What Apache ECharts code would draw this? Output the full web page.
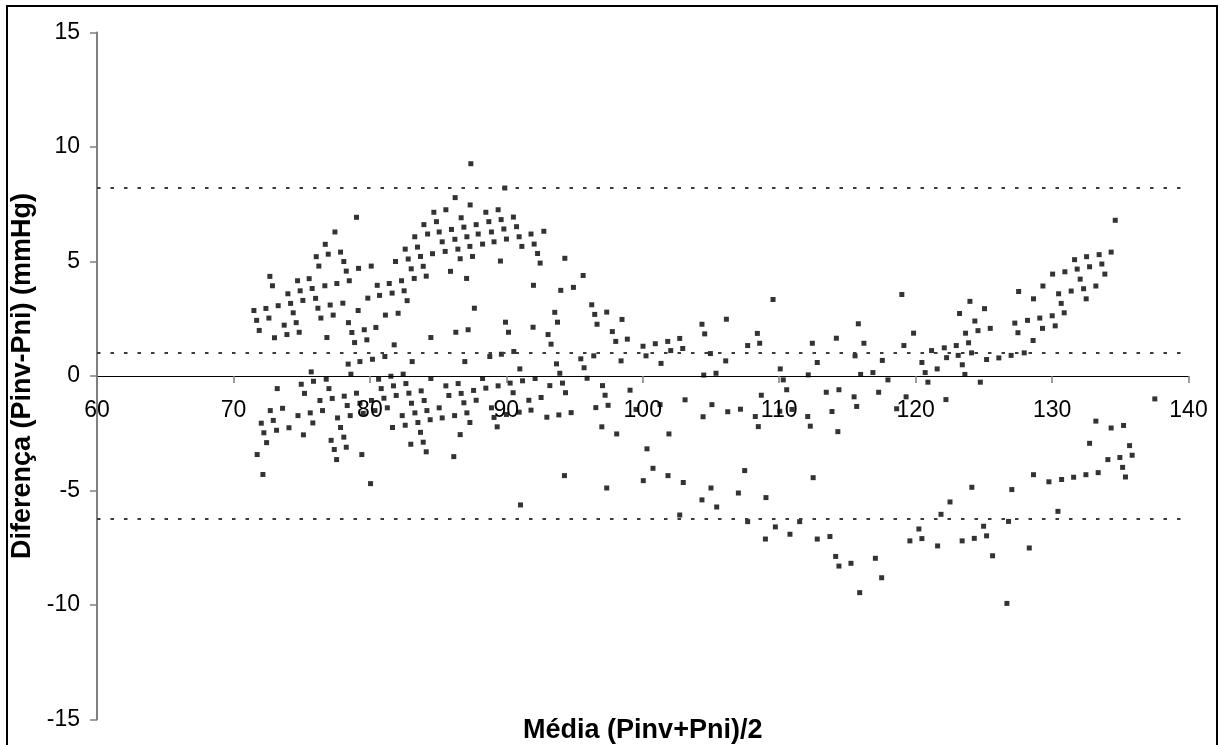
<!DOCTYPE html>
<html>
<head>
<meta charset="utf-8">
<title>Diferença vs Média (Pinv, Pni)</title>
<script src="https://cdn.jsdelivr.net/npm/echarts@6/dist/echarts.min.js"></script>
<style>
  html, body { margin: 0; padding: 0; background: #ffffff; }
  #chart { width: 1220px; height: 745px; }
</style>
</head>
<body>
<div id="chart"></div>
<script>
// Bland–Altman data: mean of the two pressures (x) and their difference (y)
const meanValues = [
  87.40, 86.25, 87.35, 84.69, 85.57, 86.69, 79.02, 84.88, 83.96, 85.98,
  86.89, 87.79, 77.44, 83.29, 84.23, 85.08, 86.23, 87.11, 87.94, 76.73,
  85.30, 83.49, 87.33, 76.07, 76.95, 77.85, 82.59, 83.71, 84.59, 85.52,
  86.45, 87.52, 76.26, 78.09, 79.17, 80.10, 81.88, 82.81, 86.62, 78.27,
  83.03, 83.91, 85.91, 72.67, 75.55, 74.70, 78.49, 83.25, 84.13, 87.09,
  72.86, 76.70, 77.58, 80.54, 81.42, 82.32, 75.77, 74.89, 73.99, 80.71,
  81.63, 82.51, 75.09, 76.02, 79.85, 82.73, 74.19, 73.28, 77.09, 78.02,
  87.66, 71.50, 72.38, 76.19, 79.14, 74.38, 77.31, 81.14, 82.07, 71.70,
  72.60, 76.41, 73.72, 74.60, 78.43, 71.89, 73.92, 74.82, 78.68, 79.59,
  80.44, 86.30, 87.20, 73.01, 76.85, 78.88, 79.78, 84.47, 81.78, 81.10,
  80.19, 79.27, 78.41, 83.10, 86.96,
  75.70, 78.61, 76.80, 75.87, 74.97, 73.21, 77.00, 75.21, 79.02, 77.24,
  76.34, 78.12, 79.27, 80.12, 78.34, 72.70, 73.60, 75.63, 76.53, 79.51,
  80.37, 74.73, 78.56, 77.63, 72.92, 72.04, 75.82, 74.07, 77.85, 73.16,
  72.23, 75.13, 78.09, 77.16, 72.43, 78.27, 77.39, 71.74, 79.41, 77.56,
  72.16, 80.05,
  80.64, 81.54, 82.44, 80.83, 81.73, 82.64, 84.47, 81.03, 81.93, 82.86,
  83.76, 85.57, 86.47, 87.60, 81.28, 83.05, 83.98, 85.79, 86.69, 87.79,
  83.30, 84.18, 85.08, 86.89, 82.37, 83.52, 84.42, 85.30, 86.21, 87.11,
  87.33, 81.66, 82.59, 83.71, 86.62, 83.00, 83.91, 84.13, 86.15,
  89.89, 88.50, 89.40, 88.72, 89.62, 90.52, 89.82, 90.75, 92.75, 88.91,
  91.81, 89.10, 90.01, 90.94, 88.26, 91.14, 92.04, 92.29, 92.48, 89.57,
  94.29, 95.63, 91.99, 93.99, 94.92, 96.26, 96.48, 97.36, 93.55, 93.75,
  96.65, 98.48, 89.94, 90.16, 91.96, 93.06, 93.28, 97.77, 98.02, 98.87,
  100.02, 100.92, 101.83, 102.71, 102.05, 102.93, 104.34, 104.54, 104.96, 88.79,
  89.64, 90.55, 95.46, 96.41, 98.41, 100.24, 101.34, 93.68, 95.70, 90.99,
  93.92, 95.92, 88.26, 90.28, 91.19, 92.11, 94.12, 88.50, 89.40, 93.19,
  97.05, 104.47, 105.37, 90.50, 94.34, 97.24, 99.07, 91.65, 92.55, 103.10,
  88.91, 91.81, 96.56, 97.46, 105.07, 90.94, 90.01, 89.10, 92.97, 93.85,
  94.75, 99.51, 101.27, 104.42, 89.33, 97.00, 98.09, 101.92, 100.31, 100.75,
  100.04, 101.85, 102.97, 105.00, 104.34, 105.42, 94.26, 97.36, 91.04, 102.71,
  109.55, 118.99, 106.13, 115.80, 108.40, 119.85, 123.22, 107.69, 108.57, 112.43,
  114.19, 116.21, 119.14, 121.17, 122.10, 122.98, 106.08, 112.79, 115.56, 117.56,
  120.46, 122.27, 123.12, 110.08, 121.58,
  112.13, 115.97, 116.87, 120.70, 110.30, 117.97, 120.90, 110.55, 113.45, 114.38,
  117.29, 108.69, 115.49, 119.30, 122.22, 106.23, 107.16, 110.04, 110.94, 113.87,
  115.68, 118.61, 108.25, 112.09, 108.47, 112.28, 114.30, 107.47, 112.49, 107.01,
  109.03, 122.52, 121.86, 107.69, 111.50, 109.72, 120.24, 108.99, 110.79, 112.79,
  113.72, 119.58, 120.46, 121.61, 114.14, 117.05, 114.38, 115.26, 117.51, 115.90,
  134.63, 134.33, 133.45, 132.53, 131.65, 132.75, 133.65, 131.84, 130.04, 130.94,
  133.87, 132.06, 129.33, 133.21, 132.31, 131.40, 127.55, 130.48, 128.64, 132.50,
  130.67, 123.98, 125.05, 130.89, 127.27, 128.20, 129.10, 130.01, 124.34, 123.66,
  124.57, 125.47, 127.50, 129.30, 130.23, 123.88, 128.61, 124.10, 125.20, 126.10,
  127.00, 127.96, 123.42,
  123.61, 124.74, 137.53, 133.21, 134.33, 135.24, 132.75, 135.68, 135.87, 134.97,
  134.09, 135.17, 135.38, 133.38, 132.48, 131.58, 130.70, 129.77, 128.64, 124.12,
  127.05, 130.43, 126.81, 124.98, 125.20, 124.30, 123.41, 125.64, 128.33, 126.69
];

const diffValues = [
  9.27, 7.79, 7.47, 7.15, 7.26, 6.91, 6.93, 6.74, 6.61, 6.40,
  6.50, 6.61, 6.29, 6.08, 6.20, 6.29, 5.97, 6.08, 6.20, 5.75,
  5.86, 5.63, 5.66, 5.21, 5.32, 5.41, 5.54, 5.22, 5.34, 5.44,
  5.54, 5.22, 4.80, 5.00, 4.70, 4.80, 5.00, 5.11, 5.12, 4.58,
  4.68, 4.79, 4.57, 4.35, 4.25, 4.16, 4.16, 4.26, 4.36, 4.26,
  3.94, 3.94, 4.04, 3.96, 4.04, 4.16, 3.82, 3.72, 3.59, 3.52,
  3.62, 3.72, 3.30, 3.39, 3.40, 3.29, 3.17, 3.07, 3.10, 3.18,
  2.96, 2.86, 2.95, 2.96, 2.86, 2.76, 2.66, 2.66, 2.74, 2.43,
  2.53, 2.53, 2.22, 2.33, 2.33, 1.99, 1.81, 1.91, 1.90, 2.02,
  2.12, 1.91, 2.02, 1.67, 1.68, 1.46, 1.58, 1.68, 1.36, 0.85,
  0.73, 0.63, 0.52, 0.63, 0.63,
  0.18, 0.08, -0.14, -0.23, -0.36, -0.55, -0.55, -0.76, -0.75, -0.98,
  -1.07, -0.88, -1.19, -1.07, -1.29, -1.51, -1.41, -1.61, -1.51, -1.63,
  -1.51, -1.73, -1.73, -1.83, -1.94, -2.06, -2.05, -2.26, -2.25, -2.37,
  -2.48, -2.57, -2.67, -2.81, -2.91, -3.11, -3.21, -3.43, -3.43, -3.65,
  -4.30, -4.70,
  -0.14, -0.01, 0.08, -0.55, -0.43, -0.33, -0.11, -0.97, -0.85, -0.75,
  -0.65, -0.43, -0.33, -0.63, -1.39, -1.19, -1.07, -0.85, -0.76, -1.06,
  -1.61, -1.51, -1.39, -1.17, -1.73, -2.03, -1.91, -1.83, -1.73, -1.61,
  -2.03, -2.25, -2.15, -2.46, -2.56, -2.98, -2.89, -3.31, -3.52,
  8.21, 7.15, 7.26, 6.74, 6.83, 6.94, 6.42, 6.52, 6.32, 6.29,
  6.20, 5.86, 5.98, 6.08, 5.76, 5.66, 5.76, 5.35, 4.93, 5.02,
  5.14, 4.39, 3.96, 3.74, 3.87, 3.11, 2.69, 2.79, 2.78, 2.35,
  2.26, 2.47, 2.35, 1.91, 2.13, 1.81, 1.39, 1.94, 1.51, 1.61,
  1.30, 1.41, 1.51, 1.64, 1.11, 1.20, 2.26, 1.84, 0.98, 0.85,
  0.95, 1.07, 0.75, 0.88, 0.66, 0.88, 0.55, 0.53, 0.36, 0.31,
  0.12, -0.10, -0.11, -0.31, -0.21, -0.11, -0.31, -0.53, -0.43, -0.42,
  -0.42, 0.04, 0.12, -0.73, -0.73, -0.84, -0.62, -1.06, -0.94, -1.04,
  -1.39, -1.49, -1.38, -1.28, -1.25, -1.58, -1.68, -1.81, -1.80, -1.70,
  -1.60, -1.46, -1.25, -1.78, -2.22, -2.22, -2.53, -2.53, -3.18, -4.03,
  -4.57, -4.35, -4.65, -4.89, -5.41, -5.72, -4.35, -4.89, -5.63, -6.07,
  3.34, 3.56, 2.48, 2.28, 1.86, 1.87, 2.73, 1.33, 1.43, 1.43,
  1.65, 1.43, 1.33, 1.11, 1.23, 1.33, 0.66, 0.59, 0.88, 0.68,
  0.59, 0.80, 0.90, 0.31, 0.31,
  0.05, 0.07, 0.15, 0.15, -0.17, -0.17, -0.27, -0.60, -0.71, -0.60,
  -0.71, -0.84, -0.91, -0.91, -1.03, -1.56, -1.45, -1.54, -1.46, -1.55,
  -1.33, -1.43, -1.77, -1.77, -2.21, -2.19, -2.43, -4.13, -4.44, -5.11,
  -5.31, -5.50, -6.04, -6.36, -6.36, -6.59, -6.68, -7.12, -6.91, -7.12,
  -7.01, -7.20, -7.10, -7.42, -7.88, -7.96, -8.30, -8.18, -8.81, -9.46,
  6.80, 5.41, 5.30, 5.21, 5.08, 4.77, 4.89, 4.67, 4.45, 4.55,
  4.45, 4.23, 3.93, 3.93, 3.81, 3.71, 3.69, 3.59, 3.37, 3.37,
  3.17, 3.26, 2.94, 2.76, 2.31, 2.43, 2.53, 2.63, 2.40, 1.87,
  1.98, 2.08, 1.89, 2.08, 2.19, 1.45, 1.55, 1.01, 0.72, 0.79,
  0.90, 1.01, 0.49,
  0.07, -0.27, -1.00, -1.97, -2.27, -2.16, -2.94, -3.04, -3.46, -3.56,
  -3.65, -3.99, -4.41, -4.22, -4.31, -4.42, -4.52, -4.62, -4.31, -4.86,
  -4.96, -5.91, -6.35, -6.56, -6.98, -7.09, -7.20, -7.85, -7.51, -9.93
];

// Mean difference and the limits of agreement
const meanDifference = 1.0;
const upperLimit = 8.23;
const lowerLimit = -6.22;

// Axis ranges and labels
const xTicks = [60, 70, 80, 90, 100, 110, 120, 130, 140];
const yTicks = [-15, -10, -5, 0, 5, 10, 15];
const xAxisTitle = 'Média (Pinv+Pni)/2';
const yAxisTitle = 'Diferença (Pinv-Pni) (mmHg)';

const points = meanValues.map((m, i) => [m, diffValues[i]]);

const chart = echarts.init(document.getElementById('chart'), null, { renderer: 'canvas' });

const fontFamily = '"Liberation Sans", Arial, Helvetica, sans-serif';
const dotted = { color: '#3a3a3a', width: 2, type: [3.5, 10], cap: 'butt' };

// Plot box; the horizontal axis is lifted from the bottom edge to the y = 0 level
const gridTop = 32.5;
const gridBottom = 25.5;
const plotHeight = 745 - gridTop - gridBottom;
const yMin = yTicks[0];
const yMax = yTicks[yTicks.length - 1];
const zeroLift = plotHeight * (0 - yMin) / (yMax - yMin);

chart.setOption({
  backgroundColor: '#ffffff',
  animation: false,
  grid: {
    left: 97, right: 31.5, top: gridTop, bottom: gridBottom,
    containLabel: false,
    outerBoundsMode: 'none'
  },
  graphic: [{
    type: 'rect',
    shape: { x: 7, y: 6, width: 1210, height: 760 },
    style: { fill: 'none', stroke: '#000000', lineWidth: 2 },
    silent: true,
    z: 100
  }],
  xAxis: {
    type: 'value',
    position: 'bottom',
    offset: -zeroLift,
    min: xTicks[0],
    max: xTicks[xTicks.length - 1],
    interval: 10,
    axisLine: { onZero: false, lineStyle: { color: '#000000', width: 1 } },
    axisTick: { show: true, inside: false, length: 7, lineStyle: { color: '#7f7f7f', width: 1.5 } },
    axisLabel: { color: '#000000', fontFamily, fontSize: 23, margin: 23 },
    splitLine: { show: false },
    name: xAxisTitle,
    nameLocation: 'middle',
    nameGap: 341,
    nameTextStyle: { color: '#000000', fontFamily, fontSize: 27, fontWeight: 'bold' }
  },
  yAxis: {
    type: 'value',
    min: yMin,
    max: yMax,
    interval: 5,
    axisLine: { show: true, onZero: false, lineStyle: { color: '#808080', width: 2 } },
    axisTick: { show: true, inside: false, length: 7, lineStyle: { color: '#808080', width: 1.5 } },
    axisLabel: { color: '#000000', fontFamily, fontSize: 23, margin: 17 },
    splitLine: { show: false },
    name: yAxisTitle,
    nameLocation: 'middle',
    nameRotate: 90,
    nameGap: 58,
    nameTextStyle: { color: '#000000', fontFamily, fontSize: 27, fontWeight: 'bold' }
  },
  series: [{
    type: 'scatter',
    data: points,
    symbol: 'rect',
    symbolSize: 5,
    itemStyle: { color: '#000000' },
    silent: true,
    markLine: {
      silent: true,
      symbol: ['none', 'none'],
      label: { show: false },
      lineStyle: dotted,
      data: [
        { yAxis: upperLimit },
        { yAxis: meanDifference },
        { yAxis: lowerLimit }
      ]
    }
  }]
});
</script>
</body>
</html>
